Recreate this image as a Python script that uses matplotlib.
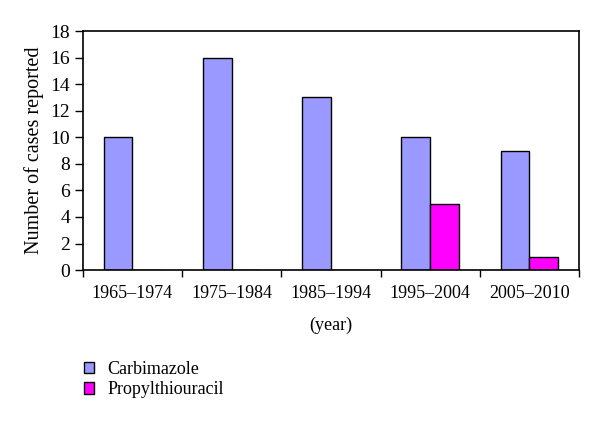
import matplotlib.pyplot as plt
import numpy as np
from matplotlib.patches import Patch

periods = ['1965–1974', '1975–1984', '1985–1994', '1995–2004', '2005–2010']
carbimazole = [10, 16, 13, 10, 9]
propylthiouracil = [0, 0, 0, 5, 1]

plt.rcParams['font.family'] = ['Liberation Serif', 'DejaVu Serif']

fig = plt.figure(figsize=(6, 4.26), dpi=100)
ax = fig.add_axes([0.138, 0.366, 0.827, 0.561])

x = np.arange(len(periods))
width = 0.29
ax.bar(x - width / 2, carbimazole, width, color='#9999FF', edgecolor='black', linewidth=1)
ax.bar(x + width / 2, propylthiouracil, width, color='#FF00FF', edgecolor='black', linewidth=1)

ax.set_xlim(-0.5, len(periods) - 0.5)
ax.set_ylim(0, 18)
ax.set_yticks(range(0, 19, 2))
ax.set_xticks(np.arange(len(periods) + 1) - 0.5, minor=False)
ax.set_xticklabels([])
ax.set_xticks(x, minor=True)
ax.set_xticklabels(periods, minor=True, fontsize=13)
ax.tick_params(axis='x', which='minor', length=0, pad=11)
ax.tick_params(axis='x', which='major', length=5, direction='out', width=1)
ax.tick_params(axis='y', labelsize=14, length=6, width=1, pad=3)

for s in ax.spines.values():
    s.set_linewidth(1.2)

ax.set_ylabel('Number of cases reported', fontsize=14.5, labelpad=5)
ax.set_xlabel('(year)', fontsize=13, labelpad=10)

handles = [Patch(facecolor='#9999FF', edgecolor='black', label='Carbimazole'),
           Patch(facecolor='#FF00FF', edgecolor='black', label='Propylthiouracil')]
fig.legend(handles=handles, loc='upper left', bbox_to_anchor=(0.128, 0.17),
           frameon=False, fontsize=13, handlelength=0.55, handleheight=0.6,
           handletextpad=0.75, labelspacing=0.2, borderaxespad=0)

fig.savefig('out.png', dpi=100)
